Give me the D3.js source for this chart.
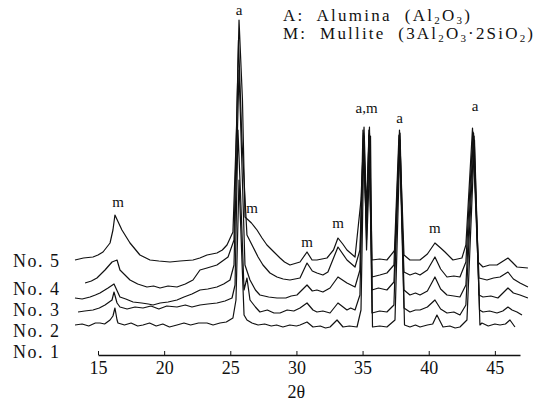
<!DOCTYPE html>
<html><head><meta charset="utf-8">
<script src="https://cdn.jsdelivr.net/npm/d3@7"></script>
<style>
html,body{margin:0;padding:0;background:#fff;}
text{font-family:"Liberation Serif","Times New Roman",serif;fill:#111;}
</style></head>
<body><svg id="c" width="545" height="414"></svg>
<script>
// ---------- data: [2θ (deg), intensity (arb. units)] ----------
const sampleNames = ["No. 1","No. 2","No. 3","No. 4","No. 5"];
const offsets = [0, 13, 23, 43, 60];

const no1 = [[13.26,3],[13.8,4],[14.3,2],[14.8,5],[15.15,5],[15.5,4],[15.91,8],[16.13,12],[16.28,20],[16.44,8],[16.51,5],[17.0,3],[17.5,5],[18.0,2],[18.4,3],[18.9,5],[19.4,2],[19.9,4],[20.4,1],[20.97,3],[21.5,5],[22.0,3],[22.6,5],[23.24,5],[23.7,3],[24.22,5],[24.7,6],[25.2,10],[25.43,28],[25.66,148],[25.88,68],[26.04,13],[26.26,8],[26.64,5],[27.1,3],[27.6,4],[28.1,2],[28.5,3],[28.98,1],[29.5,3],[30.0,2],[30.27,3],[30.8,6],[31.25,1],[31.8,2],[32.2,0],[32.54,1],[33.07,8],[33.52,1],[34.0,2],[34.58,1],[34.88,18],[35.11,192],[35.3,78],[35.6,192],[35.75,1],[36.3,2],[36.84,1],[37.45,8],[37.83,188],[38.17,3],[38.58,1],[39.0,3],[39.34,1],[39.9,3],[40.3,4],[40.62,13],[41.08,1],[41.6,2],[42.0,0],[42.36,1],[42.89,8],[43.46,188],[43.87,3],[44.02,5],[44.5,2],[45.0,4],[45.39,3],[45.8,4],[46.14,8],[46.52,1]];

const no2 = [[13.49,3],[14.0,4],[14.62,5],[15.1,7],[15.53,10],[16.06,15],[16.21,23],[16.44,12],[16.66,8],[17.2,6],[17.8,8],[18.4,7],[19.0,9],[19.6,6],[20.2,9],[20.97,8],[21.6,10],[22.1,8],[22.71,10],[23.3,11],[23.99,12],[24.6,14],[25.13,17],[25.36,30],[25.58,185],[25.85,95],[26.04,25],[26.26,37],[26.49,15],[26.9,8],[27.24,3],[27.8,5],[28.3,2],[28.76,2],[29.3,5],[29.8,4],[30.27,7],[30.8,12],[31.25,5],[31.55,3],[32.0,4],[32.54,2],[33.14,12],[33.82,5],[34.1,7],[34.43,5],[34.8,20],[35.07,182],[35.3,75],[35.52,182],[35.71,2],[36.3,4],[36.84,3],[37.37,10],[37.79,179],[38.13,7],[38.58,3],[39.0,5],[39.34,5],[39.9,8],[40.47,15],[40.9,6],[41.38,2],[41.9,3],[42.36,0],[42.81,10],[43.43,179],[43.84,5],[44.1,3],[44.6,4],[45.16,2],[45.6,4],[45.99,8],[46.3,5],[46.67,3],[47.05,0]];

const no3 = [[13.26,7],[13.8,6],[14.4,8],[14.8,10],[15.15,12],[15.76,17],[16.21,21],[16.66,8],[17.1,6],[17.65,3],[18.3,2],[18.8,1],[19.16,0],[19.7,2],[20.3,3],[20.97,5],[21.5,8],[22.1,11],[22.71,15],[23.3,16],[23.99,18],[24.5,21],[24.98,25],[25.28,40],[25.66,235],[25.96,105],[26.11,40],[26.49,25],[26.9,15],[27.24,10],[27.9,8],[28.53,7],[29.2,7],[29.6,9],[30.04,10],[30.8,20],[31.2,14],[31.55,15],[32.0,13],[32.54,17],[33.14,28],[33.82,22],[34.43,18],[34.8,35],[35.03,175],[35.3,75],[35.48,175],[35.71,15],[36.2,17],[36.84,15],[37.37,23],[37.83,172],[38.13,15],[38.58,10],[39.0,12],[39.34,10],[39.9,14],[40.47,28],[40.9,16],[41.38,10],[41.9,9],[42.36,8],[42.81,20],[43.39,172],[43.8,10],[44.1,8],[44.7,9],[45.23,7],[45.99,17],[46.4,12],[46.9,10],[47.5,7]];

const no4 = [[14.02,2],[14.5,4],[14.92,7],[15.53,15],[16.06,23],[16.44,25],[16.66,15],[17.42,5],[18.0,1],[18.7,-2],[19.2,-1],[19.69,-3],[20.3,-1],[20.97,-2],[21.6,1],[22.18,5],[22.71,15],[23.24,17],[23.99,20],[24.83,28],[25.28,45],[25.62,245],[25.88,145],[26.26,50],[26.72,38],[27.1,28],[27.47,20],[28.0,12],[28.53,8],[29.0,6],[29.51,5],[30.27,7],[30.8,22],[31.2,14],[31.55,12],[32.0,10],[32.38,13],[33.14,38],[33.82,25],[34.43,18],[34.8,35],[35.07,150],[35.3,65],[35.48,150],[35.71,8],[36.3,10],[36.84,12],[37.37,20],[37.75,150],[38.13,13],[38.58,10],[39.0,12],[39.34,10],[39.9,15],[40.47,28],[40.9,16],[41.38,8],[41.9,9],[42.36,8],[42.81,23],[43.35,153],[43.8,7],[44.4,5],[44.9,7],[45.39,8],[45.99,13],[46.4,6],[46.9,2],[47.5,-2]];

const no5 = [[13.26,8],[13.9,10],[14.62,11],[15.0,13],[15.38,16],[15.91,25],[16.13,38],[16.28,53],[16.81,38],[17.42,25],[18.17,13],[18.93,8],[19.6,7],[20.44,6],[21.2,7],[22.18,8],[22.7,10],[23.24,13],[23.99,15],[24.4,18],[24.75,23],[25.2,36],[25.47,138],[25.66,248],[25.92,168],[26.11,51],[26.6,45],[27.02,38],[27.4,30],[27.77,23],[28.3,16],[28.76,10],[29.1,6],[29.51,3],[30.27,6],[30.8,16],[31.18,8],[31.55,8],[32.31,10],[32.8,18],[33.14,30],[33.5,24],[33.82,18],[34.43,11],[34.88,68],[35.11,141],[35.3,58],[35.52,141],[35.71,8],[36.3,9],[36.84,8],[37.45,18],[37.79,138],[38.13,13],[38.58,8],[39.34,8],[39.9,14],[40.47,25],[40.9,20],[41.23,16],[41.83,8],[42.51,10],[42.81,23],[43.31,140],[43.72,6],[44.1,1],[44.6,3],[45.16,3],[45.99,10],[46.3,6],[46.67,1],[47.5,0]];

const traces = [no1, no2, no3, no4, no5];

const xTicks = [15, 20, 25, 30, 35, 40, 45];
const xLabel = "2θ";

const peakMarks = ["m","a","m","m","m","a,m","a","a","m"];
const peakTheta = [16.51, 25.66, 26.64, 30.80, 33.14, 35.30, 37.79, 43.50, 40.47];
const peakLevel = [121, 313, 115, 81, 100, 215, 205, 217, 95];

// ---------- layout ----------
const svg = d3.select("#c");
const x = d3.scaleLinear().domain([15, 46.9]).range([98, 520]);
const y = d3.scaleLinear().domain([0, 310]).range([328, 18]);

const line = d3.line().x(d => x(d[0])).y(d => y(d[1]));
traces.forEach((tr, i) => {
  const pts = tr.map(d => [d[0], d[1] + offsets[i]]);
  svg.append("path").attr("d", line(pts))
    .attr("fill", "none").attr("stroke", "#111").attr("stroke-width", 1.2)
    .attr("stroke-linejoin", "round");
});

// axis
const ax = svg.append("g").attr("transform", "translate(0,355)")
  .call(d3.axisBottom(x).tickValues(xTicks).tickSizeInner(-4).tickSizeOuter(0).tickPadding(6).tickFormat(d3.format("d")));
ax.select(".domain").attr("stroke", "#111").attr("stroke-width", 1.3);
ax.selectAll(".tick line").attr("stroke", "#111");
ax.selectAll(".tick text").style("font-size", "18px").style("font-family", '"Liberation Serif",serif').attr("fill", "#111");

svg.append("text").attr("x", x(30)).attr("y", 398).attr("text-anchor", "middle")
  .style("font-size", "18px").text(xLabel);

// sample labels
const labelY = [358, 337, 316, 295, 267];
sampleNames.forEach((n, i) => {
  svg.append("text").attr("x", 13).attr("y", labelY[i]).style("font-size", "18px")
    .style("white-space", "pre").attr("textLength", 46).attr("lengthAdjust", "spacing").text(n);
});

// peak marks
peakMarks.forEach((m, i) => {
  svg.append("text").attr("x", x(peakTheta[i])).attr("y", y(peakLevel[i]))
    .attr("text-anchor", "middle").style("font-size", "15px").text(m);
});

// legend
function legendLine(yPos, width, parts) {
  const t = svg.append("text").attr("x", 283).attr("y", yPos).style("font-size", "17px")
    .style("white-space", "pre").attr("textLength", width).attr("lengthAdjust", "spacing");
  parts.forEach(p => {
    if (p[1]) t.append("tspan").attr("baseline-shift", "-25%").style("font-size", "11px").text(p[0]);
    else t.append("tspan").text(p[0]);
  });
}
legendLine(21, 187, [["A:  Alumina  (Al"],["2",1],["O"],["3",1],[")"]]);
legendLine(39, 250, [["M:  Mullite  (3Al"],["2",1],["O"],["3",1],["·2SiO"],["2",1],[")"]]);
</script></body></html>
